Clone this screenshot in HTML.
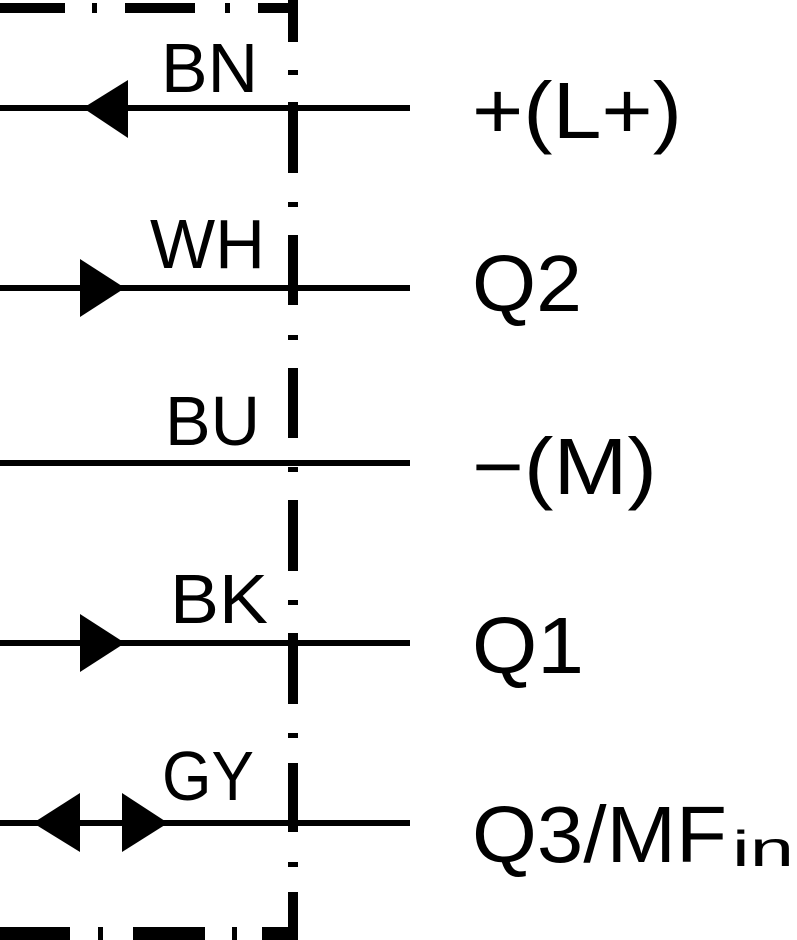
<!DOCTYPE html>
<html><head><style>
html,body{margin:0;padding:0;background:#fff;}
svg{display:block}
text{font-family:"Liberation Sans",sans-serif;fill:#000}
</style></head><body>
<svg width="797" height="940" viewBox="0 0 797 940" xmlns="http://www.w3.org/2000/svg">
<g fill="#000">
<!-- top border -->
<rect x="0" y="3" width="65" height="10"/>
<rect x="92" y="3" width="5" height="10"/>
<rect x="125" y="3" width="70" height="10"/>
<rect x="225" y="3" width="5" height="10"/>
<rect x="258" y="3" width="40" height="10"/>
<!-- bottom border -->
<rect x="0" y="927" width="70" height="13"/>
<rect x="98" y="927" width="5" height="13"/>
<rect x="133" y="927" width="72" height="13"/>
<rect x="232" y="927" width="5" height="13"/>
<rect x="262" y="927" width="36" height="13"/>
<!-- vertical dash-dot -->
<rect x="288" y="0" width="10" height="42"/>
<rect x="288" y="70" width="10" height="5"/>
<rect x="288" y="102" width="10" height="71"/>
<rect x="288" y="202" width="10" height="5"/>
<rect x="288" y="235" width="10" height="70"/>
<rect x="288" y="335" width="10" height="5"/>
<rect x="288" y="368" width="10" height="70"/>
<rect x="288" y="467" width="10" height="5"/>
<rect x="288" y="500" width="10" height="71"/>
<rect x="288" y="600" width="10" height="5"/>
<rect x="288" y="633" width="10" height="71"/>
<rect x="288" y="733" width="10" height="5"/>
<rect x="288" y="763" width="10" height="69"/>
<rect x="288" y="862" width="10" height="5"/>
<rect x="288" y="892" width="10" height="48"/>
<!-- lines -->
<rect x="0" y="105" width="410" height="6"/>
<rect x="0" y="285" width="410" height="6"/>
<rect x="0" y="460" width="410" height="6"/>
<rect x="0" y="640" width="410" height="6"/>
<rect x="0" y="820" width="410" height="6"/>
<!-- arrows -->
<polygon points="83,108 128,80 128,138"/>
<polygon points="80,259 80,317 125,288"/>
<polygon points="80,614 80,672 125,643"/>
<polygon points="33,823 80,793 80,852"/>
<polygon points="122,793 122,852 168,823"/>
</g>
<g font-size="70">
<text x="161" y="92" textLength="97" lengthAdjust="spacingAndGlyphs">BN</text>
<text x="150" y="268" textLength="115" lengthAdjust="spacingAndGlyphs">WH</text>
<text x="165" y="445" textLength="95" lengthAdjust="spacingAndGlyphs">BU</text>
<text x="170" y="623" textLength="98" lengthAdjust="spacingAndGlyphs">BK</text>
<text x="162" y="800" textLength="92" lengthAdjust="spacingAndGlyphs">GY</text>
</g>
<g font-size="80">
<text x="472" y="138" textLength="210" lengthAdjust="spacingAndGlyphs">+(L+)</text>
<text x="472" y="311" textLength="110" lengthAdjust="spacingAndGlyphs">Q2</text>
<text x="472" y="494" textLength="185" lengthAdjust="spacingAndGlyphs">−(M)</text>
<text x="472" y="673" textLength="112" lengthAdjust="spacingAndGlyphs">Q1</text>
<text x="472" y="862" textLength="255" lengthAdjust="spacingAndGlyphs">Q3/MF</text>
<text x="732" y="866" font-size="50" textLength="62" lengthAdjust="spacingAndGlyphs">in</text>
</g>
</svg>
</body></html>
